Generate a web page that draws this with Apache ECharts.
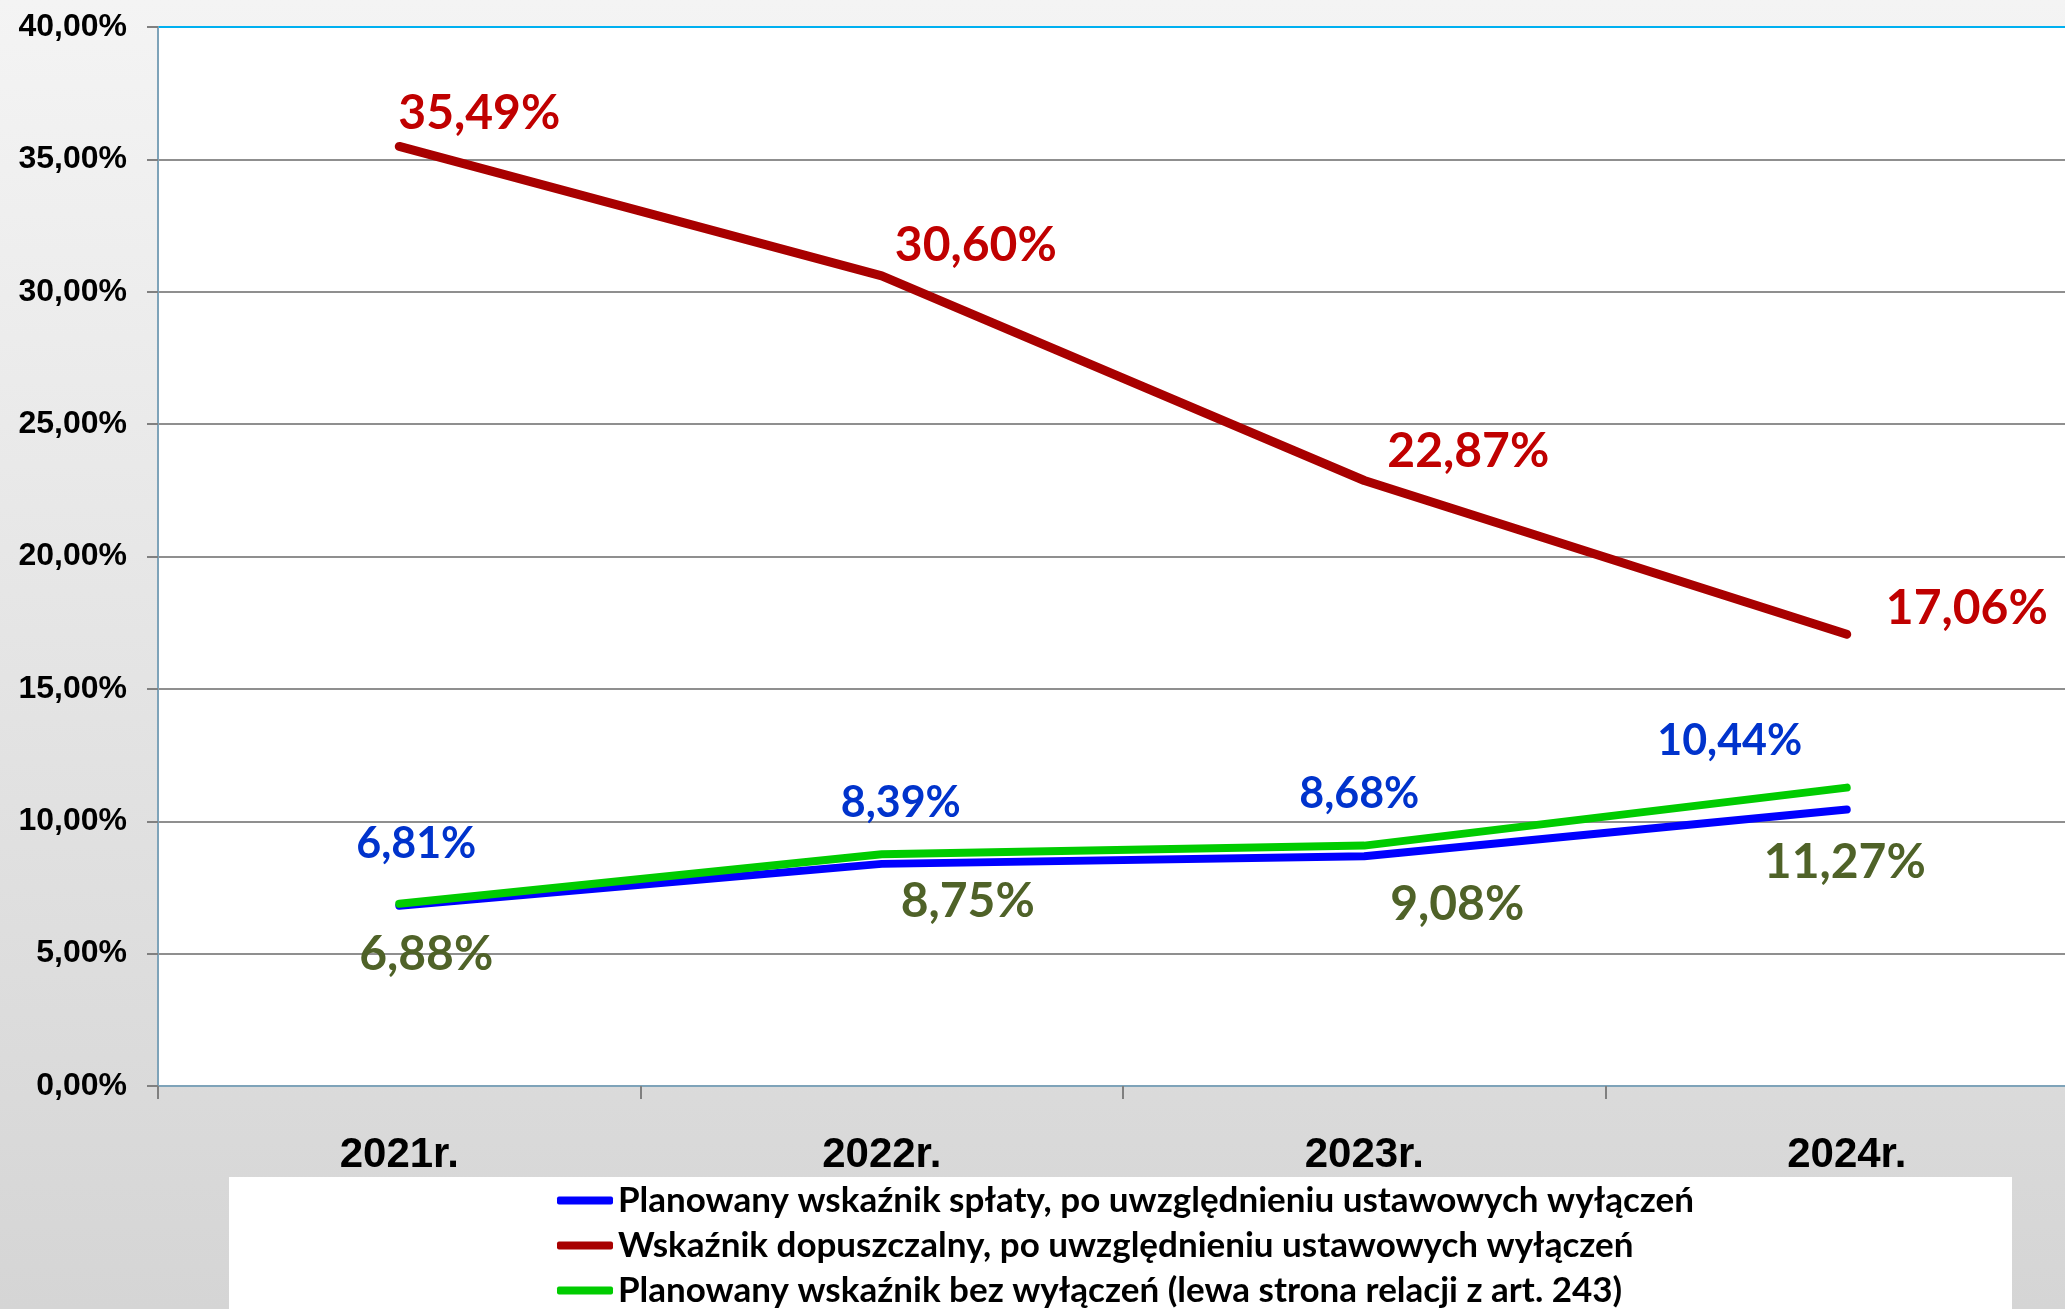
<!DOCTYPE html>
<html>
<head>
<meta charset="utf-8">
<script src="https://cdn.jsdelivr.net/npm/echarts@6/dist/echarts.min.js"></script>
<style>
html,body{margin:0;padding:0;}
#c{width:2065px;height:1309px;}
</style>
</head>
<body>
<div id="c"></div>
<script>
const categories = ['2021r.', '2022r.', '2023r.', '2024r.'];
const seriesNames = [
  'Planowany wskaźnik spłaty, po uwzględnieniu ustawowych wyłączeń',
  'Wskaźnik dopuszczalny, po uwzględnieniu ustawowych wyłączeń',
  'Planowany wskaźnik bez wyłączeń (lewa strona relacji z art. 243)'
];
const bluePlanned = [6.81, 8.39, 8.68, 10.44];
const redAllowed = [35.49, 30.60, 22.87, 17.06];
const greenNoExcl = [6.88, 8.75, 9.08, 11.27];
const yTicks = [0, 5, 10, 15, 20, 25, 30, 35, 40];

// label offsets (style, not data)
const blueOffsets = [[17, -62], [19, -61], [-5, -62], [-117, -68]];
const redOffsets = [[80, -33], [94, -30], [104, -29], [120, -26]];
const greenOffsets = [[27, 51], [86, 47], [93, 59], [-2, 75]];

const fmt = v => v.toFixed(2).replace('.', ',') + '%';

function build(values, offsets, labelColor, fontSize) {
  return values.map((v, i) => ({
    value: v,
    label: {
      show: true,
      position: 'inside',
      offset: offsets[i],
      color: labelColor,
      fontSize: fontSize,
      fontWeight: 'bold',
      fontFamily: 'Lato, "Noto Sans", sans-serif',
      formatter: p => fmt(p.value)
    }
  }));
}

const chart = echarts.init(document.getElementById('c'), null, {renderer: 'canvas'});
const gridColors = yTicks.map((t, i) => i === yTicks.length - 1 ? '#00B0F0' : '#8f8f8f');

chart.setOption({
  animation: false,
  backgroundColor: {
    type: 'linear', x: 0, y: 0, x2: 0, y2: 1,
    colorStops: [{offset: 0, color: '#f4f4f4'}, {offset: 1, color: '#d5d5d5'}]
  },
  graphic: [{
    type: 'rect',
    left: 229, top: 1177,
    shape: {width: 1783, height: 140},
    style: {fill: '#ffffff'},
    z: 0
  }],
  grid: {
    left: 158, top: 27, width: 1930, height: 1059,
    outerBoundsMode: 'none',
    containLabel: false,
    show: true, backgroundColor: '#ffffff', borderWidth: 0
  },
  legend: {
    orient: 'vertical',
    left: 557, top: 1183,
    padding: 0,
    itemWidth: 56, itemHeight: 8,
    itemGap: 10,
    icon: 'roundRect',
    textStyle: {
      fontFamily: 'Lato, "Noto Sans", sans-serif',
      fontWeight: 'bold', fontSize: 35, color: '#000', lineHeight: 35
    },
    data: seriesNames
  },
  xAxis: {
    type: 'category',
    data: categories,
    boundaryGap: true,
    axisLine: {lineStyle: {color: '#7ea3b9', width: 2}},
    axisTick: {show: true, length: 13, lineStyle: {color: '#808080', width: 2}},
    axisLabel: {
      margin: 48,
      fontFamily: '"Liberation Sans", Arial, sans-serif',
      fontWeight: 'bold', fontSize: 42, color: '#000'
    },
    splitLine: {show: false}
  },
  yAxis: {
    type: 'value',
    min: 0, max: 40, interval: 5,
    axisLine: {show: true, lineStyle: {color: '#7ea3b9', width: 2}},
    axisTick: {show: true, length: 11, lineStyle: {color: '#808080', width: 2}},
    axisLabel: {
      margin: 31,
      fontFamily: '"Liberation Sans", Arial, sans-serif',
      fontWeight: 'bold', fontSize: 32, color: '#000',
      formatter: v => fmt(v)
    },
    splitLine: {show: true, lineStyle: {color: gridColors, width: 2}}
  },
  series: [
    {
      name: seriesNames[0], type: 'line',
      data: build(bluePlanned, blueOffsets, '#0033CC', 43),
      symbol: 'circle', symbolSize: 0.1,
      itemStyle: {color: '#0000FF'},
      lineStyle: {color: '#0000FF', width: 8, cap: 'round', join: 'round'},
      z: 3
    },
    {
      name: seriesNames[1], type: 'line',
      data: build(redAllowed, redOffsets, '#C00000', 48),
      symbol: 'circle', symbolSize: 0.1,
      itemStyle: {color: '#A80000'},
      lineStyle: {color: '#A80000', width: 9, cap: 'round', join: 'round'},
      z: 4
    },
    {
      name: seriesNames[2], type: 'line',
      data: build(greenNoExcl, greenOffsets, '#4F6228', 48),
      symbol: 'circle', symbolSize: 0.1,
      itemStyle: {color: '#00CC00'},
      lineStyle: {color: '#00CC00', width: 8, cap: 'round', join: 'round'},
      z: 5
    }
  ]
});
</script>
</body>
</html>
